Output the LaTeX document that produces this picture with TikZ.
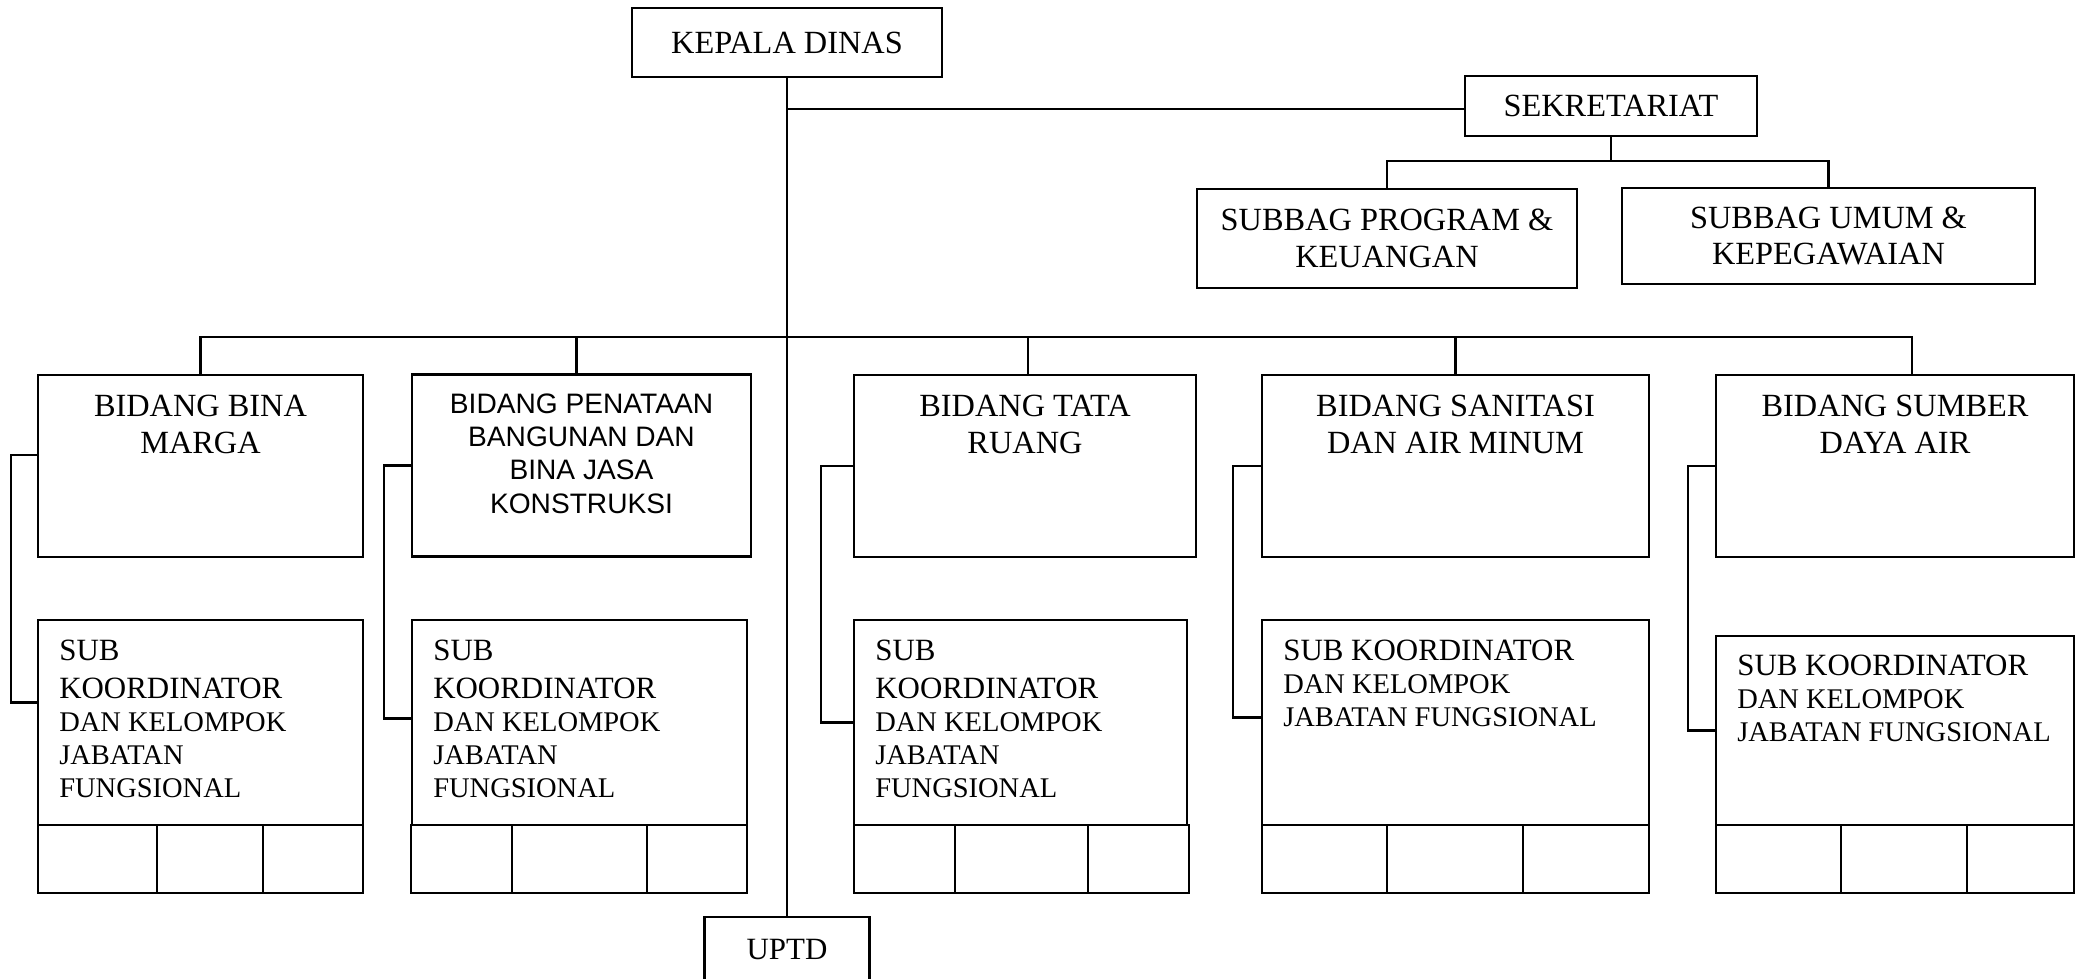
\documentclass[tikz,border=0pt]{standalone}
\usepackage{fontspec}
\setmainfont{Liberation Serif}
\newfontfamily\arialfont{Liberation Sans}

\newcommand{\hurufbesar}{\fontsize{8.8}{9.4}\selectfont}
\newcommand{\hurufkecil}{\fontsize{8.1}{9.4}\selectfont}

\tikzset{
  kotak/.style={draw, line width=0.75pt, inner sep=0pt},
  garis/.style={line width=0.6pt},
  judul/.style={font=\fontsize{9.2}{10.5}\selectfont, align=center, inner sep=0pt},
  judulsans/.style={font=\arialfont\fontsize{8}{9.5}\selectfont, align=center, inner sep=0pt},
  isi/.style={inner sep=0pt, anchor=north west},
}

\begin{document}
\begin{tikzpicture}[x=0.01cm,y=-0.01cm]
            \useasboundingbox (0,0) rectangle (2076,978);

            % Pimpinan dan sekretariat
            \node[kotak, judul, minimum width=3.10cm, minimum height=0.69cm] (kd) at (787,42.5) {KEPALA DINAS};
            \node[kotak, judul, minimum width=2.92cm, minimum height=0.60cm] (sek) at (1611,106) {SEKRETARIAT};
            \node[kotak, judul, minimum width=3.80cm, minimum height=0.99cm] (sbp) at (1387,238.5) {SUBBAG PROGRAM \&\\KEUANGAN};
            \node[kotak, judul, minimum width=4.13cm, minimum height=0.96cm] (sbu) at (1828.5,236) {SUBBAG UMUM \&\\KEPEGAWAIAN};
            \node[kotak, font=\hurufbesar, minimum width=1.65cm, minimum height=0.64cm] (uptd) at (787,949) {UPTD};

            % Bidang
            \node[kotak, minimum width=3.25cm, minimum height=1.82cm] (bm) at (200.5,466) {};
            \node[kotak, minimum width=3.39cm, minimum height=1.82cm] (pbj) at (581.5,465.5) {};
            \node[kotak, minimum width=3.42cm, minimum height=1.82cm] (tr) at (1025,466) {};
            \node[kotak, minimum width=3.87cm, minimum height=1.82cm] (sam) at (1455.5,466) {};
            \node[kotak, minimum width=3.58cm, minimum height=1.82cm] (sda) at (1895,466) {};

            \node[judul, anchor=north] (bm-t) at ([yshift=-0.21cm]bm.north) {BIDANG BINA\\MARGA};
            \node[judulsans, anchor=north] (pbj-t) at ([yshift=-0.195cm]pbj.north) {BIDANG PENATAAN\\BANGUNAN DAN\\BINA JASA\\KONSTRUKSI};
            \node[judul, anchor=north] (tr-t) at ([yshift=-0.21cm]tr.north) {BIDANG TATA\\RUANG};
            \node[judul, anchor=north] (sam-t) at ([yshift=-0.21cm]sam.north) {BIDANG SANITASI\\DAN AIR MINUM};
            \node[judul, anchor=north] (sda-t) at ([yshift=-0.21cm]sda.north) {BIDANG SUMBER\\DAYA AIR};

            % Sub koordinator
            \node[kotak, minimum width=3.25cm, minimum height=2.05cm] (bmk) at (200.5,722.5) {};
            \node[kotak, minimum width=3.35cm, minimum height=2.05cm] (pbjk) at (579.5,722.5) {};
            \node[kotak, minimum width=3.33cm, minimum height=2.05cm] (trk) at (1020.5,722.5) {};
            \node[kotak, minimum width=3.87cm, minimum height=2.05cm] (samk) at (1455.5,722.5) {};
            \node[kotak, minimum width=3.58cm, minimum height=1.89cm] (sdak) at (1895,730.5) {};

            \node[isi] (bmk-t) at ([xshift=0.22cm,yshift=-0.21cm]bmk.north west) {\parbox[t]{2.9cm}{\raggedright\hurufbesar SUB\\[1.2pt]KOORDINATOR\\ \hurufkecil DAN KELOMPOK\\JABATAN\\FUNGSIONAL}};
            \node[isi] (pbjk-t) at ([xshift=0.22cm,yshift=-0.21cm]pbjk.north west) {\parbox[t]{2.9cm}{\raggedright\hurufbesar SUB\\[1.2pt]KOORDINATOR\\ \hurufkecil DAN KELOMPOK\\JABATAN\\FUNGSIONAL}};
            \node[isi] (trk-t) at ([xshift=0.22cm,yshift=-0.21cm]trk.north west) {\parbox[t]{2.9cm}{\raggedright\hurufbesar SUB\\[1.2pt]KOORDINATOR\\ \hurufkecil DAN KELOMPOK\\JABATAN\\FUNGSIONAL}};
            \node[isi] (samk-t) at ([xshift=0.22cm,yshift=-0.21cm]samk.north west) {\parbox[t]{3.4cm}{\raggedright\hurufbesar SUB KOORDINATOR\\ \hurufkecil DAN KELOMPOK\\JABATAN FUNGSIONAL}};
            \node[isi] (sdak-t) at ([xshift=0.22cm,yshift=-0.20cm]sdak.north west) {\parbox[t]{3.3cm}{\raggedright\hurufbesar SUB KOORDINATOR\\ \hurufkecil DAN KELOMPOK\\JABATAN FUNGSIONAL}};

            % Kotak kosong di bawah
            \draw[kotak] (38,825) rectangle (157,893);
            \draw[kotak] (157,825) rectangle (263,893);
            \draw[kotak] (263,825) rectangle (363,893);
            \draw[kotak] (411,825) rectangle (512,893);
            \draw[kotak] (512,825) rectangle (647,893);
            \draw[kotak] (647,825) rectangle (747,893);
            \draw[kotak] (854,825) rectangle (955,893);
            \draw[kotak] (955,825) rectangle (1088,893);
            \draw[kotak] (1088,825) rectangle (1189,893);
            \draw[kotak] (1262,825) rectangle (1387,893);
            \draw[kotak] (1387,825) rectangle (1523,893);
            \draw[kotak] (1523,825) rectangle (1649,893);
            \draw[kotak] (1716,825) rectangle (1841,893);
            \draw[kotak] (1841,825) rectangle (1967,893);
            \draw[kotak] (1967,825) rectangle (2074,893);

            % Garis
            \coordinate (sekbar) at (1606,161);
            \coordinate (bar) at (787,337);
            \draw[garis] (kd.south) -- (uptd.north);
            \draw[garis] ([yshift=-0.03cm]kd.south |- sek.west) -- ([yshift=-0.03cm]sek.west);
            \draw[garis] (sek.south) -- (sek.south |- sekbar);
            \draw[garis] (sbp.north) |- (sek.south |- sekbar) -| (sbu.north);
            \draw[garis] (bm.north) |- (bar) -| ([xshift=0.17cm]sda.north);
            \draw[garis] ([xshift=-0.05cm]pbj.north) -- ([xshift=-0.05cm]pbj.north |- bar);
            \draw[garis] ([xshift=0.03cm]tr.north) -- ([xshift=0.03cm]tr.north |- bar);
            \draw[garis] (sam.north) -- (sam.north |- bar);

            \draw[garis] ([yshift=0.11cm]bm.west) -- ++(-26,0) |- ([yshift=0.2cm]bmk.west);
            \draw[garis] (pbj.west) -- ++(-27,0) |- ([yshift=0.04cm]pbjk.west);
            \draw[garis] (tr.west) -- ++(-32,0) |- (trk.west);
            \draw[garis] (sam.west) -- ++(-28,0) |- ([yshift=0.05cm]samk.west);
            \draw[garis] (sda.west) -- ++(-27,0) |- (sdak.west);
\end{tikzpicture}
\end{document}
